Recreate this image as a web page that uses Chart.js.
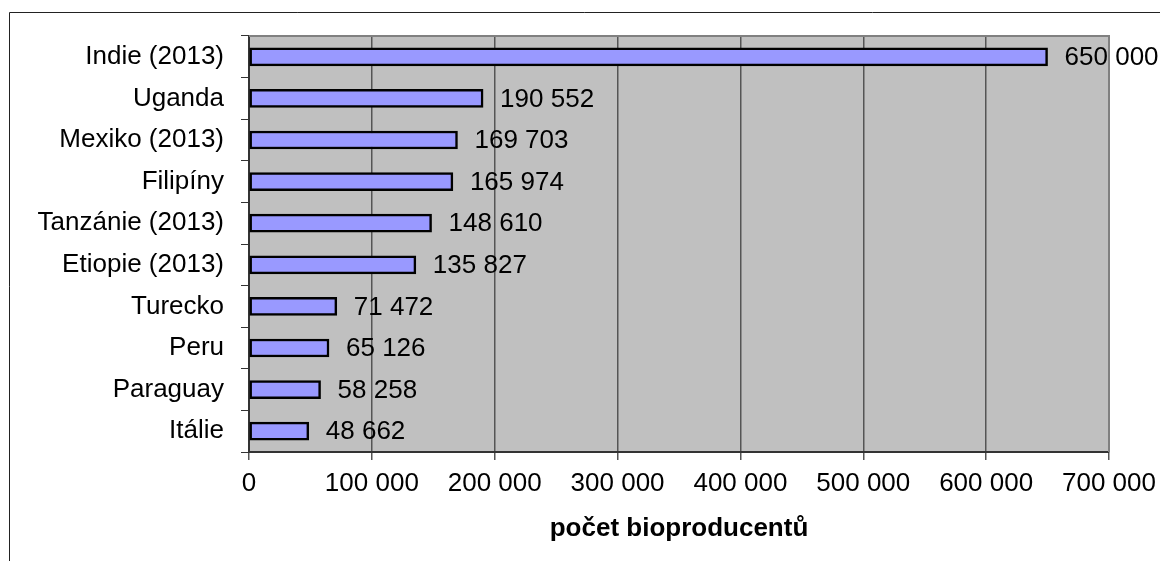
<!DOCTYPE html>
<html>
<head>
    <title>Počet bioproducentů</title>
    <script src="https://cdn.jsdelivr.net/npm/chart.js@4/dist/chart.umd.min.js"></script>
</head>
<body style="margin: 0; background-color: white;">
    <canvas id="myChart" width="1160" height="561" style="width:1160px;height:561px;"></canvas>
    <script>
        // Datos del gráfico
        var zeme = ['Indie (2013)', 'Uganda', 'Mexiko (2013)', 'Filipíny', 'Tanzánie (2013)',
                    'Etiopie (2013)', 'Turecko', 'Peru', 'Paraguay', 'Itálie'];
        var producenti = [650000, 190552, 169703, 165974, 148610, 135827, 71472, 65126, 58258, 48662];
        var osaMax = 700000;
        var osaKrok = 100000;
        var nazevOsy = 'počet bioproducentů';

        var pismo = "'Liberation Sans', Arial, sans-serif";

        function formatCislo(v) {
            return String(v).replace(/\B(?=(\d{3})+(?!\d))/g, ' ');
        }

        // Fondo, marco y área gris
        var pozadi = {
            id: 'pozadi',
            beforeDraw: function (chart) {
                var c = chart.ctx, a = chart.chartArea;
                c.save();
                c.fillStyle = '#fff';
                c.fillRect(0, 0, chart.width, chart.height);
                c.strokeStyle = '#222';
                c.lineWidth = 1;
                c.beginPath();
                c.moveTo(9.5, chart.height);
                c.lineTo(9.5, 12.5);
                c.lineTo(chart.width, 12.5);
                c.stroke();
                c.fillStyle = '#c0c0c0';
                c.fillRect(a.left, a.top, a.right - a.left, a.bottom - a.top);
                c.restore();
            },
            beforeDatasetsDraw: function (chart) {
                var c = chart.ctx, a = chart.chartArea;
                c.save();
                c.strokeStyle = '#808080';
                c.lineWidth = 2;
                c.beginPath();
                c.moveTo(a.left, a.top);
                c.lineTo(a.right, a.top);
                c.lineTo(a.right, a.bottom);
                c.stroke();
                c.restore();
            }
        };

        // Etiquetas de valor junto a las barras
        var popisky = {
            id: 'popisky',
            afterDatasetsDraw: function (chart) {
                var c = chart.ctx;
                var meta = chart.getDatasetMeta(0);
                c.save();
                c.font = '26px ' + pismo;
                c.fillStyle = '#000';
                c.textAlign = 'left';
                c.textBaseline = 'middle';
                meta.data.forEach(function (bar, i) {
                    c.fillText(formatCislo(producenti[i]), bar.x + 17, bar.y + 1);
                });
                c.restore();
            }
        };

        var ctx = document.getElementById('myChart').getContext('2d');
        var myChart = new Chart(ctx, {
            type: 'bar',
            data: {
                labels: zeme,
                datasets: [{
                    data: producenti,
                    backgroundColor: '#9999ff',
                    borderColor: '#000',
                    borderWidth: 2.5,
                    borderSkipped: false,
                    barThickness: 18
                }]
            },
            options: {
                indexAxis: 'y',
                responsive: false,
                animation: false,
                layout: { padding: { left: 0, top: 36, right: 51, bottom: 0 } },
                plugins: {
                    legend: { display: false },
                    tooltip: { enabled: false }
                },
                scales: {
                    x: {
                        min: 0,
                        max: osaMax,
                        afterFit: function (s) {
                            s.height = 109;
                            s.paddingLeft = 0;
                            s.paddingRight = 0;
                        },
                        ticks: {
                            stepSize: osaKrok,
                            color: '#000',
                            padding: 8,
                            maxRotation: 0,
                            font: { family: pismo, size: 26 },
                            callback: function (v) { return formatCislo(v); }
                        },
                        grid: { color: '#555', lineWidth: 1.5, tickLength: 8 },
                        border: { color: '#333', width: 2 },
                        title: {
                            display: true,
                            text: nazevOsy,
                            color: '#000',
                            padding: { top: 0, bottom: 17 },
                            font: { family: pismo, size: 26, weight: 'bold' }
                        }
                    },
                    y: {
                        afterFit: function (s) { s.width = 249; },
                        ticks: {
                            color: '#000',
                            padding: 17,
                            font: { family: pismo, size: 26 }
                        },
                        grid: { drawOnChartArea: false, color: '#333', tickLength: 8, offset: true },
                        border: { color: '#333', width: 2 }
                    }
                }
            },
            plugins: [pozadi, popisky]
        });
    </script>
</body>
</html>
